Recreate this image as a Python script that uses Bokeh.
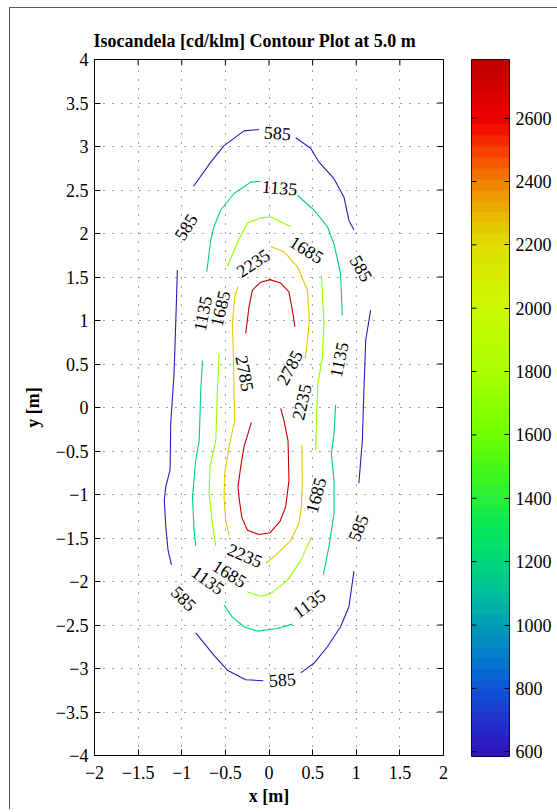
import math
import numpy as np
from bokeh.plotting import figure
from bokeh.layouts import row
from bokeh.models import (ColumnDataSource, LinearColorMapper, FixedTicker,
                          CustomJSTickFormatter, Range1d)
from bokeh.transform import transform
from bokeh.core.properties import value
from bokeh.embed import file_html
from bokeh.resources import INLINE

NaN = float("nan")

# ---------------- data ----------------
title_text = "Isocandela [cd/klm] Contour Plot at 5.0 m"
levels = [585, 1135, 1685, 2235, 2785]
cbar_ticks = [600, 800, 1000, 1200, 1400, 1600, 1800, 2000, 2200, 2400, 2600]
x_ticks = [-2, -1.5, -1, -0.5, 0, 0.5, 1, 1.5, 2]
y_ticks = [-4, -3.5, -3, -2.5, -2, -1.5, -1, -0.5, 0, 0.5, 1, 1.5, 2, 2.5, 3, 3.5, 4]

c585_x = [-0.866, -0.668, -0.515, -0.286, -0.115, NaN,
          0.306, 0.478, 0.573, 0.745, 0.859, 0.916, 0.974, NaN,
          1.165, 1.108, 1.088, 1.070, 1.030, NaN,
          0.974, 0.916, 0.820, 0.669, 0.515, 0.363, NaN,
          -0.064, -0.267, -0.477, -0.630, -0.840, NaN,
          -1.118, -1.157, -1.183, -1.200, -1.183, -1.134, -1.126, -1.088, -1.069, -1.050]
c585_y = [2.54, 2.82, 3.01, 3.18, 3.195, NaN,
          3.10, 2.98, 2.82, 2.63, 2.42, 2.15, 2.04, NaN,
          1.12, 0.77, 0.20, -0.38, -0.87, NaN,
          -1.88, -2.29, -2.52, -2.75, -2.94, -3.05, NaN,
          -3.14, -3.13, -3.02, -2.85, -2.59, NaN,
          -1.81, -1.64, -1.37, -1.07, -0.91, -0.72, -0.18, 0.39, 0.97, 1.58]

c1135_x = [-0.713, -0.668, -0.630, -0.553, -0.400, -0.210, -0.095, NaN,
           0.325, 0.515, 0.669, 0.745, 0.820, 0.840, NaN,
           0.764, 0.745, 0.715, 0.745, 0.745, 0.687, 0.623, NaN,
           0.268, 0.096, -0.133, -0.286, -0.420, -0.515, NaN,
           -0.840, -0.859, -0.877, -0.840, -0.800, -0.782, -0.763]
c1135_y = [1.56, 1.92, 2.08, 2.27, 2.46, 2.59, 2.60, NaN,
           2.44, 2.27, 2.08, 1.88, 1.54, 1.06, NaN,
           0.03, -0.30, -0.53, -0.84, -1.22, -1.60, -1.92, NaN,
           -2.49, -2.54, -2.57, -2.52, -2.41, -2.27, NaN,
           -1.59, -1.41, -1.03, -0.61, -0.38, 0.20, 0.54]

c1685_x = [-0.477, -0.362, -0.247, -0.095, 0.019, 0.248, NaN,
           0.600, 0.630, 0.611, 0.561, 0.546, 0.535, NaN,
           0.478, 0.363, 0.210, 0.019, -0.095, -0.247, NaN,
           -0.610, -0.649, -0.687, -0.676, -0.610, -0.591, -0.573]
c1685_y = [1.62, 1.90, 2.12, 2.18, 2.19, 2.08, NaN,
           1.52, 0.97, 0.58, 0.28, -0.09, -0.49, NaN,
           -1.51, -1.76, -1.99, -2.14, -2.17, -2.12, NaN,
           -1.59, -1.33, -0.99, -0.68, -0.38, 0.20, 0.62]

c2235_x = [0.019, 0.172, 0.325, 0.440, 0.463, 0.440, 0.413, NaN,
           0.375, 0.382, 0.371, 0.344, 0.248, 0.096, -0.038, NaN,
           -0.458, -0.496, -0.515, -0.507, -0.458, -0.393, -0.400, -0.408, -0.419, -0.393, -0.355]
c2235_y = [1.85, 1.79, 1.62, 1.35, 1.00, 0.77, 0.56, NaN,
           -0.43, -0.84, -1.14, -1.33, -1.53, -1.68, -1.79, NaN,
           -1.47, -1.30, -1.03, -0.76, -0.45, -0.15, 0.12, 0.58, 0.97, 1.27, 1.39]

c2785_x = [-0.267, -0.229, -0.190, -0.095, 0.011, 0.134, 0.229, 0.260, 0.298, NaN,
           0.134, 0.172, 0.218, 0.229, 0.191, 0.126, 0.011, -0.115, -0.247, -0.313,
           -0.344, -0.355, -0.324, -0.286, -0.202]
c2785_y = [0.85, 1.16, 1.35, 1.44, 1.47, 1.43, 1.33, 1.16, 0.93, NaN,
           -0.01, -0.15, -0.38, -0.84, -1.14, -1.31, -1.44, -1.46, -1.41, -1.26,
           -1.03, -0.91, -0.68, -0.45, -0.17]

label_text = ["585"] * 6 + ["1135"] * 5 + ["1685"] * 4 + ["2235"] * 3 + ["2785"] * 2
label_x = [0.096, -0.954, 1.058, 1.020, 0.153, -0.974,
           0.123, -0.763, 0.800, 0.458, -0.699,
           0.432, -0.561, 0.535, -0.450,
           -0.183, 0.371, -0.275,
           -0.275, 0.234]
label_y = [3.156, 2.076, 1.598, -1.384, -3.127, -2.195,
           2.529, 1.080, 0.550, -2.253, -1.985,
           1.816, 1.138, -1.008, -1.908,
           1.662, 0.064, -1.698,
           0.391, 0.460]
label_angle = [-4, 58, -60, 68, 4, -45,
               -5, 79, 78, 36, -36,
               -32, 77, 75, -32,
               34, 77, -23,
               -79, 62]

# ---------------- style: jet-like colormap ----------------
anchors = [(0.00, "#3016bc"), (0.05, "#1e36cc"), (0.10, "#0a5cd8"), (0.145, "#0482c8"),
           (0.19, "#00a2b0"), (0.235, "#00c298"), (0.28, "#00d878"), (0.325, "#08e858"),
           (0.37, "#28f038"), (0.415, "#48f818"), (0.46, "#70ff00"), (0.55, "#a8ff00"),
           (0.645, "#ccf800"), (0.735, "#e0e000"), (0.78, "#e8b800"), (0.825, "#f08800"),
           (0.87, "#f84800"), (0.915, "#f00000"), (0.96, "#d80000"), (1.00, "#c00000")]


def _hex(c):
    return [int(c[i:i + 2], 16) for i in (1, 3, 5)]


palette = []
N = 64
for k in range(N):
    t = k / (N - 1)
    for (t0, c0), (t1, c1) in zip(anchors[:-1], anchors[1:]):
        if t0 <= t <= t1:
            f = (t - t0) / (t1 - t0) if t1 > t0 else 0
            a, b = _hex(c0), _hex(c1)
            rgb = [round(a[i] + (b[i] - a[i]) * f) for i in range(3)]
            palette.append("#%02x%02x%02x" % tuple(rgb))
            break

mapper = LinearColorMapper(palette=palette, low=levels[0], high=levels[-1])

FONT = "Liberation Serif"
minus_fmt = CustomJSTickFormatter(code="return (tick < 0 ? '\\u2212' : '') + Math.abs(tick).toString();")

FRAME_W, FRAME_H = 349, 696
TOP, BOTTOM = 51, 54

p = figure(frame_width=FRAME_W, frame_height=FRAME_H,
           x_range=Range1d(-2, 2), y_range=Range1d(-4, 4),
           output_backend="svg", toolbar_location=None,
           min_border_left=84, min_border_right=28, min_border_top=TOP, min_border_bottom=BOTTOM)
p.background_fill_color = "white"
p.border_fill_color = "white"
p.outline_line_color = "black"
p.outline_line_width = 1

p.title.text = title_text
p.title.text_font = FONT
p.title.text_font_size = "18px"
p.title.text_font_style = "bold"
p.title.text_color = "black"
p.title.align = "left"
p.title.offset = -1
p.title.standoff = 18

for ax, ticks in ((p.xaxis[0], x_ticks), (p.yaxis[0], y_ticks)):
    ax.ticker = FixedTicker(ticks=ticks)
    ax.formatter = minus_fmt
    ax.major_tick_in = 6
    ax.major_tick_out = 0
    ax.minor_tick_line_color = None
    ax.axis_line_color = None
    ax.major_tick_line_color = "black"
    ax.major_label_text_font = FONT
    ax.major_label_text_font_size = "18px"
    ax.major_label_text_color = "black"
    ax.axis_label_text_font = FONT
    ax.axis_label_text_font_size = "18px"
    ax.axis_label_text_font_style = "bold"
    ax.axis_label_text_color = "black"

p.xaxis.axis_label = "x [m]"
p.yaxis.axis_label = "y [m]"
p.xaxis.major_label_standoff = 10
p.xaxis.axis_label_standoff = 4
p.yaxis.major_label_standoff = 6
p.yaxis.axis_label_standoff = 10

p.xgrid.ticker = FixedTicker(ticks=x_ticks)
p.ygrid.ticker = FixedTicker(ticks=y_ticks)
for g in (p.xgrid[0], p.ygrid[0]):
    g.grid_line_color = "#333333"
    g.grid_line_dash = "1 8"
    g.grid_line_width = 1
    g.grid_line_alpha = 0.9

# mirrored inward ticks on the top and right edges of the frame
p.ray(x=x_ticks, y=p.y_range.end, length=6, length_units="screen",
      angle=-90, angle_units="deg", line_color="black", line_width=1)
p.ray(x=p.x_range.end, y=y_ticks, length=6, length_units="screen",
      angle=180, angle_units="deg", line_color="black", line_width=1)

# contour lines split into segments at NaN
series = [(levels[0], c585_x, c585_y), (levels[1], c1135_x, c1135_y),
          (levels[2], c1685_x, c1685_y), (levels[3], c2235_x, c2235_y),
          (levels[4], c2785_x, c2785_y)]
xs, ys, lv = [], [], []
for lev, cx, cy in series:
    sx, sy = [], []
    for a, b in zip(cx + [NaN], cy + [NaN]):
        if math.isnan(a):
            if sx:
                xs.append(sx); ys.append(sy); lv.append(lev)
            sx, sy = [], []
        else:
            sx.append(a); sy.append(b)

line_src = ColumnDataSource(dict(xs=xs, ys=ys, level=lv))
p.multi_line("xs", "ys", source=line_src, line_color=transform("level", mapper), line_width=1.1)

lbl_src = ColumnDataSource(dict(x=label_x, y=label_y, text=label_text, angle=label_angle))
p.text(x="x", y="y", text="text", angle="angle", angle_units="deg", source=lbl_src,
       text_font=value(FONT), text_font_size="18px", text_align="center",
       text_baseline="middle", text_color="black")

# ---------------- colour bar as its own small figure ----------------
cb = figure(frame_width=38, frame_height=FRAME_H + 1,
            x_range=Range1d(0, 1), y_range=Range1d(levels[0], levels[-1]),
            output_backend="svg", toolbar_location=None, y_axis_location="right",
            min_border_left=0, min_border_right=49, min_border_top=TOP, min_border_bottom=BOTTOM - 1)
cb.xaxis.visible = False
cb.grid.visible = False
cb.outline_line_color = "black"
cb.outline_line_width = 1
cb.border_fill_color = "white"
grad = np.linspace(levels[0], levels[-1], N).reshape(N, 1)
cb.image(image=[grad], x=cb.x_range.start, y=levels[0], dw=1, dh=levels[-1] - levels[0],
         color_mapper=mapper)
cax = cb.yaxis[0]
cax.ticker = FixedTicker(ticks=cbar_ticks)
cax.major_tick_in = 5
cax.major_tick_out = 0
cax.minor_tick_line_color = None
cax.axis_line_color = None
cax.major_tick_line_color = "black"
cax.major_label_text_font = FONT
cax.major_label_text_font_size = "18px"
cax.major_label_text_color = "black"
cax.major_label_standoff = 6
cb.ray(x=cb.x_range.start, y=cbar_ticks, length=5, length_units="screen",
       angle=0, angle_units="deg", line_color="black", line_width=1)

layout = row(p, cb)
layout.styles = {"margin-left": "9px", "margin-top": "7px",
                 "border-left": "1px solid #5a5a5a", "border-top": "1px solid #5a5a5a"}
open("out.html", "w").write(file_html(layout, INLINE))
